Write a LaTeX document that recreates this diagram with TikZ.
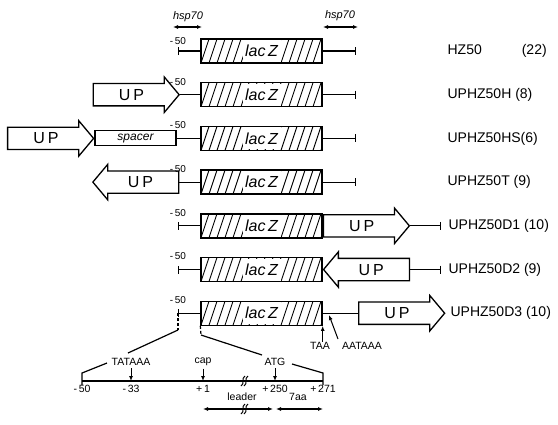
\documentclass[tikz,border=0pt]{standalone}
\usepackage{fontspec}
\setmainfont{Liberation Sans}
\usetikzlibrary{shapes.arrows,arrows.meta}

\tikzset{
  laczbox/.style={draw, line width=1.4pt, minimum width=121pt, minimum height=24pt,
    inner sep=0pt, font=\fontsize{16}{16}\selectfont\itshape,
    path picture={
      \foreach \k in {-2,...,15}
        \draw[line width=0.9pt] ([xshift=\k*8pt]path picture bounding box.south west) -- ++(8pt,24pt);
      \fill[white] ([xshift=-19pt,yshift=-11pt]path picture bounding box.center) rectangle ++(38pt,22pt);
    }},
  uparrow/.style={single arrow, draw, line width=1.3pt, single arrow head extend=6.5pt,
    single arrow tip angle=100, minimum height=86pt, inner xsep=4pt, inner ysep=5pt,
    text height=11pt, text depth=0pt, font=\fontsize{16}{16}\selectfont},
  spacerbox/.style={draw, line width=1.1pt, minimum width=81pt, minimum height=15pt,
    inner sep=0pt, font=\fontsize{12}{12}\selectfont\itshape},
  endbar/.style={-{Bar[width=8pt,line width=1.2pt]}},
  rowlabel/.style={anchor=west, inner sep=0pt, font=\fontsize{14}{14}\selectfont},
  minuslabel/.style={inner sep=0pt, font=\fontsize{10}{10}\selectfont},
  poslabel/.style={inner sep=0pt, font=\fontsize{10.5}{10.5}\selectfont},
  hsplabel/.style={inner sep=0pt, font=\fontsize{11}{11}\selectfont\itshape},
  brk/.pic={
    \draw[line width=1pt] (-4,5) .. controls (0,3) and (-4,-3) .. (0,-5);
    \draw[line width=1pt] (-1,5) .. controls (3,3) and (-1,-3) .. (3,-5);
  }
}

\begin{document}
\begin{tikzpicture}[x=1pt, y=-1pt, line width=1.2pt, >={Latex[length=5pt,width=4pt]}]
    \useasboundingbox (0,0) rectangle (558,424);
    % lacZ boxes and line ends
    \foreach \i/\y in {1/51,2/94.7,3/138.4,4/182.1,5/225.8,6/269.5,7/313.2} {
        \node[laczbox] (z\i) at (261.5,\y) {lac\,Z};
        \coordinate (l\i) at (178,\y);
        \coordinate (r\i) at (356,\y);
        \coordinate (e\i) at (441,\y);
    }
    \node[minuslabel] (m1) at ([yshift=10pt]l1) {-\,50};
    \foreach \i in {2,...,7}
        \node[minuslabel] (m\i) at ([yshift=13pt]l\i) {-\,50};

    % hsp70 ends
    \coordinate (h1) at (173,27);
    \coordinate (h2) at (202,27);
    \coordinate (h3) at (323,27);
    \coordinate (h4) at (358,27);
    \node[hsplabel] (hs1) at (188,17) {hsp70};
    \node[hsplabel] (hs2) at (340,16) {hsp70};
    \draw[<->] (h1) -- (h2);
    \draw[<->] (h3) -- (h4);

    % HZ50
    \draw[endbar] (z1.west) -- (l1);
    \draw[endbar] (z1.east) -- (r1);
    % UPHZ50H
    \node[uparrow, anchor=tip] (u2) at (180,94.7) {U\hspace{3pt}P};
    \draw (u2.tip) -- (z2.west);
    \draw[endbar] (z2.east) -- (r2);
    % UPHZ50HS
    \node[spacerbox] (s3) at (135.5,138.4) {spacer};
    \node[uparrow, anchor=tip] (u3) at (s3.west) {U\hspace{3pt}P};
    \draw (s3.east) -- (z3.west);
    \draw[endbar] (z3.east) -- (r3);
    % UPHZ50T
    \node[uparrow, shape border rotate=180, anchor=tip] (u4) at (92,182.1) {U\hspace{3pt}P};
    \draw (u4.tail) -- (z4.west);
    \draw[endbar] (z4.east) -- (r4);
    % UPHZ50D1
    \draw[endbar] (z5.west) -- (l5);
    \node[uparrow, anchor=tail] (u5) at (z5.east) {U\hspace{3pt}P};
    \draw[endbar] (u5.tip) -- (e5);
    % UPHZ50D2
    \draw[endbar] (z6.west) -- (l6);
    \node[uparrow, shape border rotate=180, anchor=tip] (u6) at (z6.east) {U\hspace{3pt}P};
    \draw[endbar] (u6.tail) -- (e6);
    % UPHZ50D3
    \draw[endbar] (z7.west) -- (l7);
    \node[uparrow, anchor=tail] (u7) at (358,313.2) {U\hspace{3pt}P};
    \draw (z7.east) -- (u7.tail);

    % construct names
    \node[rowlabel] (n1) at (447,51) {HZ50\hspace{40pt}(22)};
    \node[rowlabel] (n2) at (447,94.7) {UPHZ50H (8)};
    \node[rowlabel] (n3) at (447,138.4) {UPHZ50HS(6)};
    \node[rowlabel] (n4) at (447,182.1) {UPHZ50T (9)};
    \node[rowlabel] (n5) at (448,225.8) {UPHZ50D1 (10)};
    \node[rowlabel] (n6) at (448,269.5) {UPHZ50D2 (9)};
    \node[rowlabel] (n7) at (450,313.2) {UPHZ50D3 (10)};

    % TAA and AATAAA
    \node[poslabel] (taa) at (320,346) {TAA};
    \node[poslabel] (aat) at (362,346) {AATAAA};
    \coordinate (aa1) at (338,339);
    \coordinate (aa2) at (329,315);
    \draw[line width=1pt, ->] (taa.north -| z7.south east) -- (z7.south east);
    \draw[line width=1pt, ->] (aa1) -- (aa2);

    % promoter expanded
    \coordinate (p1) at (178,330);
    \coordinate (p2) at (201,335);
    \draw[densely dashed] (l7) -- (p1);
    \draw[densely dashed] (z7.south west) -- (p2);
    \coordinate (a0) at (82,381);
    \coordinate (a1) at (323,381);
    \coordinate (q0) at (82,373);
    \coordinate (q1) at (128,353);
    \coordinate (q2) at (107,363);
    \coordinate (q3) at (262,355);
    \coordinate (q4) at (292,364);
    \coordinate (q5) at (323,373);
    \node[poslabel] (tata) at (131,362) {TATAAA};
    \node[poslabel] (cap) at (203,362) {cap};
    \node[poslabel] (atg) at (275,362) {ATG};
    \draw (p1) -- (q1);
    \draw (q2) -- (q0) -- ++(0,12);
    \draw (p2) -- (q3);
    \draw (q4) -- (q5) -- ++(0,12);
    \draw (a0) -- (a1);
    \foreach \t in {tata,cap,atg}
        \draw[line width=1pt, ->] ([yshift=-2pt]\t.south) -- (\t.south |- a0);
    \pic at (245,381) {brk};
    \foreach \x/\t/\n in {82/-\,50/b1,131/-\,33/b2,203/+\,1/b3,275/+\,250/b4,323/+\,271/b5}
        \node[poslabel] (\n) at (\x,389) {\t};

    % leader and 7aa
    \coordinate (d1) at (203,409);
    \coordinate (d2) at (273,409);
    \coordinate (d3) at (276,409);
    \coordinate (d4) at (323,409);
    \draw[<->] (d1) -- (d2);
    \draw[<->] (d3) -- (d4);
    \pic at (245,409) {brk};
    \node[poslabel] (lead) at (242,397) {leader};
    \node[poslabel] (aa7) at (298,397) {7aa};
\end{tikzpicture}
\end{document}
